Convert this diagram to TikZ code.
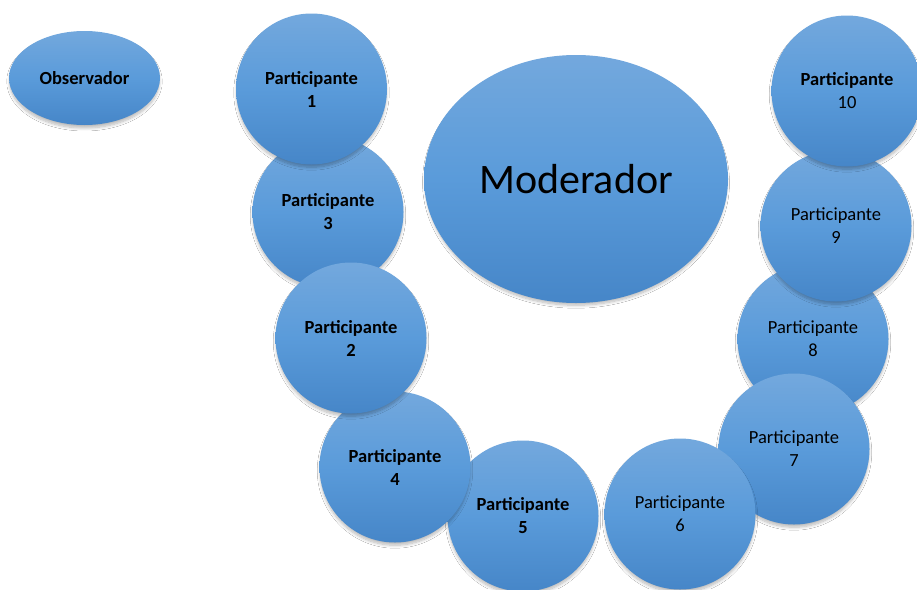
\documentclass[tikz,border=0pt]{standalone}
\usepackage{fontspec}
\setmainfont{Carlito}
\usetikzlibrary{shapes.geometric,shadows.blur}
\definecolor{btop}{HTML}{73A8DD}
\definecolor{bmid}{HTML}{5A9BDA}
\definecolor{bbot}{HTML}{4686C8}
\tikzset{
  softshadow/.style={blur shadow={shadow xshift=0pt, shadow yshift=-3.5pt, shadow scale=0.99, shadow blur radius=3pt, shadow blur steps=8, shadow opacity=28}},
  bubble/.style={circle, inner sep=0pt, minimum size=151pt, top color=btop, bottom color=bbot, middle color=bmid,
    softshadow, align=center, font=\fontsize{18.5}{23}\selectfont, text=black},
  oval/.style={ellipse, inner sep=0pt, top color=btop, bottom color=bbot, middle color=bmid,
    softshadow, align=center, text=black},
}
\begin{document}
\begin{tikzpicture}[x=1pt,y=-1pt]
\useasboundingbox[fill=white] (0,0) rectangle (917,589);
% left arc
\node[bubble] (p5) at (523,516) {\textbf{Participante}\\\textbf{5}};
\node[bubble] (p4) at (395,467) {\textbf{Participante}\\\textbf{4}};
\node[bubble] (p3) at (328,212) {\textbf{Participante}\\\textbf{3}};
\node[bubble] (p2) at (351,338) {\textbf{Participante}\\\textbf{2}};
\node[bubble] (p1) at (311.5,89) {\textbf{Participante}\\\textbf{1}};
% right arc
\node[bubble] (p8) at (813,339) {Participante\\8};
\node[bubble] (p9) at (836,226) {Participante\\9};
\node[bubble] (p10) at (847,91) {\textbf{Participante}\\10};
\node[bubble] (p7) at (794,449) {Participante\\7};
\node[bubble] (p6) at (680,514) {Participante\\6};
% ellipses
\node[oval, minimum width=151pt, minimum height=94pt, font=\fontsize{18.5}{23}\selectfont\bfseries] (obs) at (84.5,78) {Observador};
\node[oval, minimum width=304pt, minimum height=248pt, font=\fontsize{42}{50}\selectfont] (mod) at (576,179) {Moderador};
\end{tikzpicture}
\end{document}
